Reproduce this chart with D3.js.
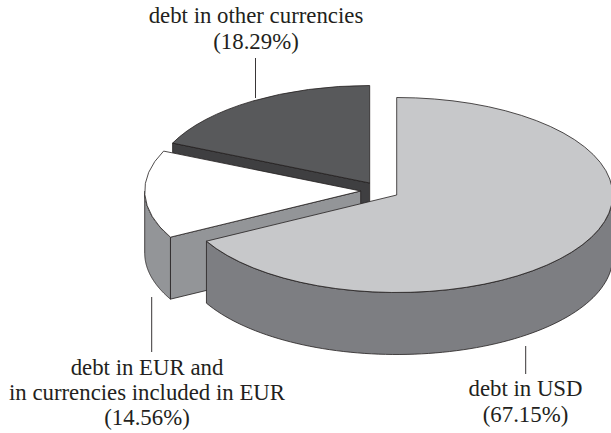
<!DOCTYPE html>
<html><head><meta charset="utf-8">
<script src="https://cdnjs.cloudflare.com/ajax/libs/d3/7.8.5/d3.min.js"></script>
<style>html,body{margin:0;padding:0;background:#fff}svg{display:block}text{font-family:"Liberation Serif",serif;font-size:22.8px;fill:#231f20;text-anchor:middle}</style>
</head><body><svg id="c" width="611" height="433"></svg>
<script>
const categories = ["debt in USD", "debt in EUR and in currencies included in EUR", "debt in other currencies"];
const shares = [67.15, 14.56, 18.29];
const labelLines = [["debt in USD", "(67.15%)"], ["debt in EUR and", "in currencies included in EUR", "(14.56%)"], ["debt in other currencies", "(18.29%)"]];
const topColors = ["#c7c8ca", "#ffffff", "#58595b"];
const wallColors = ["#7d7e82", "#939598", "#3f3f41"];
const apexes = [[396.7,195],[360.7,191],[369.7,183]];
const labelPos = [[525.5,396,26],[147,375,25],[256,23,26]];
const leaders = [[525.7,346,374],[151.7,297,352],[255.5,58,98]];

const rx=216, ry=97.5, depth=62;
const svg=d3.select("#c");
const pie=d3.pie().sort(null).value(d=>d);
const arcs=pie(shares);
const rad=d3.scaleLinear().domain([0,1]).range([0,rx]);
const arcGen=d3.arc().innerRadius(0).outerRadius(rad(1));
const P=(i,a,dz=0)=>[apexes[i][0]+rx*Math.sin(a), apexes[i][1]-ry*Math.cos(a)+dz];
const line=d3.line();
const strokeC="#231f20";

function drawWall(i,a0,a1){
  if(a1<=a0) return;
  const n=80, s=d3.range(n+1).map(k=>P(i,a0+(a1-a0)*k/n));
  const pts=s.concat(s.slice().reverse().map(p=>[p[0],p[1]+depth]));
  svg.append("path").attr("d",line(pts)+"Z").attr("fill",wallColors[i]).attr("stroke",strokeC).attr("stroke-width",0.8).attr("stroke-linejoin","round");
}
function drawCut(i,a){
  const A=apexes[i],B=P(i,a);
  svg.append("path").attr("d",line([A,B,[B[0],B[1]+depth],[A[0],A[1]+depth]])+"Z").attr("fill",wallColors[i]).attr("stroke",strokeC).attr("stroke-width",0.8);
}
function drawTop(i){
  svg.append("g").attr("transform",`translate(${apexes[i]}) scale(1,${ry/rx})`)
    .append("path").attr("d",arcGen(arcs[i])).attr("fill",topColors[i]).attr("stroke",strokeC).attr("stroke-width",0.8).attr("vector-effect","non-scaling-stroke");
}
// back to front
drawCut(2,arcs[2].startAngle); drawTop(2);
drawCut(1,arcs[1].startAngle);
drawWall(1,arcs[1].startAngle,Math.min(arcs[1].endAngle,1.5*Math.PI)); drawTop(1);
drawWall(0,Math.PI/2,arcs[0].endAngle); drawTop(0);

leaders.forEach(l=>svg.append("line").attr("x1",l[0]).attr("x2",l[0]).attr("y1",l[1]).attr("y2",l[2]).attr("stroke",strokeC).attr("stroke-width",0.9));
labelLines.forEach((ls,i)=>{
  const t=svg.append("text").attr("x",labelPos[i][0]).attr("y",labelPos[i][1]);
  ls.forEach((s,k)=>t.append("tspan").attr("x",labelPos[i][0]).attr("dy",k?labelPos[i][2]:0).text(s));
});
</script></body></html>
